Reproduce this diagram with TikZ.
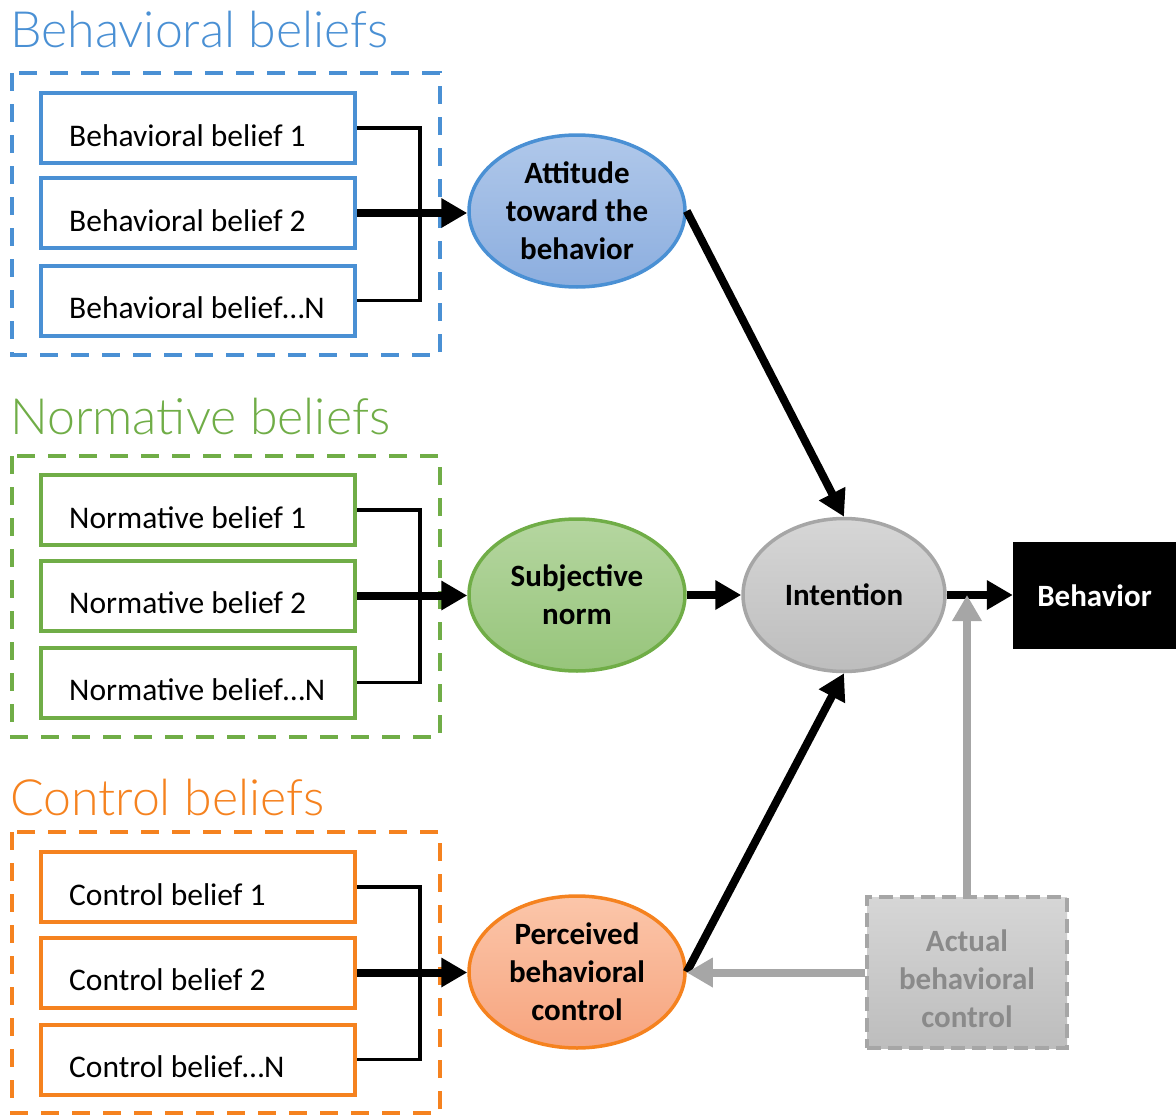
\documentclass[tikz,border=0pt]{standalone}
\usepackage{fontspec}
\setmainfont{Carlito}
\newfontfamily\lightfont{Lato Light}
\usetikzlibrary{shapes.geometric,arrows.meta}
\definecolor{cblue}{HTML}{4A90D4}
\definecolor{cgreen}{HTML}{70AD47}
\definecolor{corange}{HTML}{F5821F}
\definecolor{bluetop}{HTML}{B0C8EA}
\definecolor{bluebot}{HTML}{8CAEDF}
\definecolor{greentop}{HTML}{B5D6A0}
\definecolor{greenbot}{HTML}{97C57B}
\definecolor{orangetop}{HTML}{FBC6AA}
\definecolor{orangebot}{HTML}{F7A47E}
\definecolor{gborder}{HTML}{A6A6A6}
\definecolor{gtop}{HTML}{D6D6D6}
\definecolor{gbot}{HTML}{BDBDBD}
\definecolor{atext}{HTML}{8A8A8A}
\definecolor{garrow}{HTML}{A6A6A6}
\begin{document}
\begin{tikzpicture}[x=1pt,y=-1pt,
  bbox/.style={draw=#1, line width=4pt, minimum width=314pt, minimum height=70pt, inner sep=0pt},
  btext/.style={anchor=base west, font=\fontsize{31.5}{38}\selectfont, inner sep=0pt},
  groupbox/.style={draw=#1, line width=4pt, dash pattern=on 18pt off 13pt},
  titletext/.style={anchor=base west, text=#1, font=\lightfont\fontsize{50}{60}\selectfont, inner sep=0pt},
  brk/.style={line width=3.5pt},
  bigarrow/.style={line width=8pt, -{Triangle[length=26pt,width=28pt]}},
  ell/.style={ellipse, draw=#1, line width=3.5pt, minimum width=216pt, minimum height=152pt, inner sep=0pt, align=center, font=\fontsize{31}{38}\selectfont\bfseries}
]
\useasboundingbox (0,0) rectangle (1176,1116);

% titles
\node[titletext=cblue] (tB) at (10,48) {Behavioral beliefs};
\node[titletext=cgreen] (tN) at (10,434) {Normative beliefs};
\node[titletext=corange] (tC) at (10,815) {Control beliefs};

% group boxes
\draw[groupbox=cblue] (12,73) rectangle (440,355);
\draw[groupbox=cgreen] (12,456) rectangle (440,737);
\draw[groupbox=corange] (12,832) rectangle (440,1113);

% belief boxes
\node[bbox=cblue] (bb1) at (198,128) {};
\node[bbox=cblue] (bb2) at (198,213) {};
\node[bbox=cblue] (bb3) at (198,300.5) {};
\node[bbox=cgreen] (nb1) at (198,510) {};
\node[bbox=cgreen] (nb2) at (198,595.5) {};
\node[bbox=cgreen] (nb3) at (198,682.5) {};
\node[bbox=corange] (cb1) at (198,887) {};
\node[bbox=corange] (cb2) at (198,972.5) {};
\node[bbox=corange] (cb3) at (198,1059.5) {};

\node[btext] (tbb1) at ([xshift=30pt,yshift=19pt]bb1.south west) {Behavioral belief 1};
\node[btext] (tbb2) at ([xshift=30pt,yshift=19pt]bb2.south west) {Behavioral belief 2};
\node[btext] (tbb3) at ([xshift=30pt,yshift=19pt]bb3.south west) {Behavioral belief…N};
\node[btext] (tnb1) at ([xshift=30pt,yshift=19pt]nb1.south west) {Normative belief 1};
\node[btext] (tnb2) at ([xshift=30pt,yshift=19pt]nb2.south west) {Normative belief 2};
\node[btext] (tnb3) at ([xshift=30pt,yshift=19pt]nb3.south west) {Normative belief…N};
\node[btext] (tcb1) at ([xshift=30pt,yshift=19pt]cb1.south west) {Control belief 1};
\node[btext] (tcb2) at ([xshift=30pt,yshift=19pt]cb2.south west) {Control belief 2};
\node[btext] (tcb3) at ([xshift=30pt,yshift=19pt]cb3.south west) {Control belief…N};

% ellipses
\node[ell=cblue, top color=bluetop, bottom color=bluebot] (att) at (577,211) {Attitude\\toward the\\behavior};
\node[ell=cgreen, top color=greentop, bottom color=greenbot] (sub) at (577,595) {Subjective\\norm};
\node[ell=corange, top color=orangetop, bottom color=orangebot] (per) at (577,972) {Perceived\\behavioral\\control};
\node[ell=gborder, top color=gtop, bottom color=gbot, minimum width=202pt, minimum height=153pt] (int) at (844,595) {Intention};

% behavior
\node[fill=black, text=white, minimum width=163pt, minimum height=107pt, inner sep=0pt, font=\fontsize{31}{38}\selectfont\bfseries] (beh) at (1094.5,595.5) {Behavior};

% actual behavioral control
\node[draw=gborder, dash pattern=on 14pt off 7pt, line width=4pt, top color=gtop, bottom color=gbot, minimum width=200pt, minimum height=151pt, inner sep=0pt] (act) at (967,972.5) {};
\node[inner sep=0pt, align=center, text=atext, font=\fontsize{31}{38}\selectfont\bfseries] (actt) at ([yshift=-6pt]act.center) {Actual\\behavioral\\control};

% brackets
\draw[brk] (bb1.east) -- ++(63,0) |- (bb3.east);
\draw[brk] (nb1.east) -- ++(63,0) |- (nb3.east);
\draw[brk] (cb1.east) -- ++(63,0) |- (cb3.east);

% arrows
\draw[bigarrow] (bb2.east) -- (bb2.east -| att.west);
\draw[bigarrow] (nb2.east) -- (nb2.east -| sub.west);
\draw[bigarrow] (cb2.east) -- (cb2.east -| per.west);
\draw[bigarrow] (att.east) -- (int.north);
\draw[bigarrow] (per.east) -- (int.south);
\draw[bigarrow] (sub.east) -- (int.west);
\draw[bigarrow] (int.east) -- (int.east -| beh.west);
\coordinate (meet) at (act.north |- int.east);
\draw[bigarrow, draw=garrow, fill=garrow] (act.north) -- (meet);
\draw[bigarrow, draw=garrow, fill=garrow] (act.west) -- (act.west -| per.east);
\end{tikzpicture}
\end{document}
